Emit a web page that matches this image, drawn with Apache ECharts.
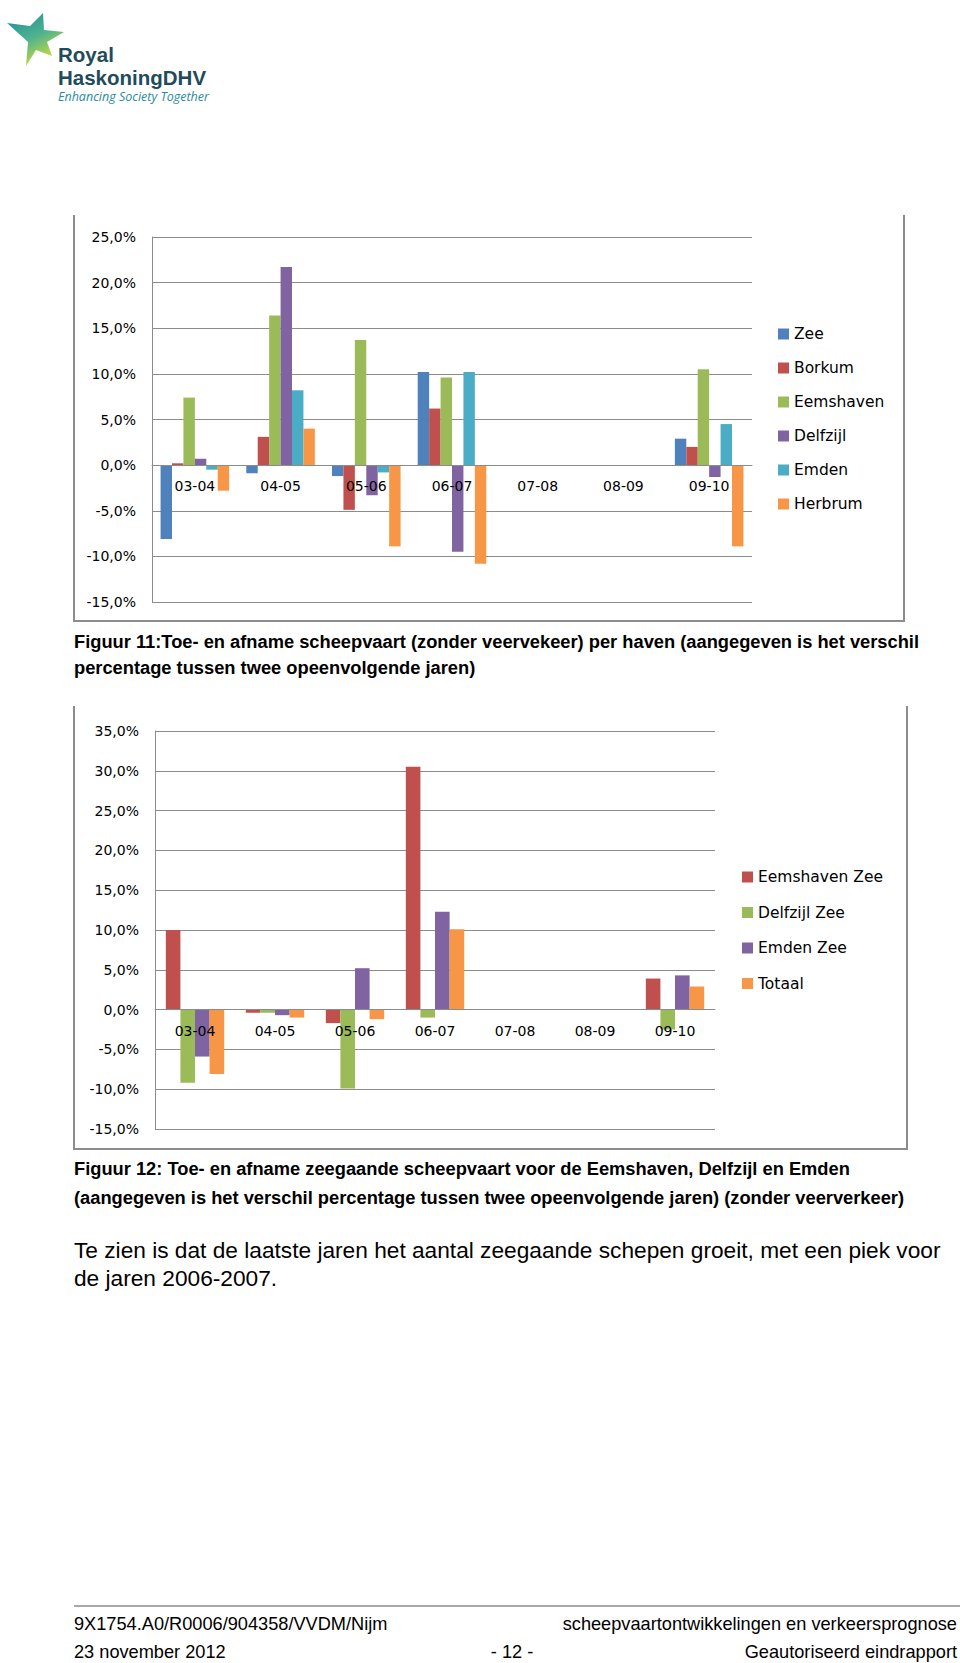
<!DOCTYPE html>
<html>
<head>
<meta charset="utf-8">
<script src="https://cdn.jsdelivr.net/npm/echarts@6/dist/echarts.min.js"></script>
<style>
  html, body { margin: 0; padding: 0; background: #fff; }
  #page { width: 960px; height: 1663px; }
</style>
</head>
<body>
<div id="page"></div>
<script>
// categorieen (jaarparen)
const categories = ['03-04', '04-05', '05-06', '06-07', '07-08', '08-09', '09-10']

// figuur 11: per haven, % verschil
const zee = [-8.1, -0.9, -1.2, 10.2, 0, 0, 2.9]
const borkum = [0.2, 3.1, -4.9, 6.2, 0, 0, 2.0]
const eemshaven = [7.4, 16.4, 13.7, 9.6, 0, 0, 10.5]
const delfzijl = [0.7, 21.7, -3.3, -9.5, 0, 0, -1.3]
const emden = [-0.5, 8.2, -0.8, 10.2, 0, 0, 4.5]
const herbrum = [-2.8, 4.0, -8.9, -10.8, 0, 0, -8.9]

// figuur 12: zeegaande scheepvaart
const eemshavenZee = [10.0, -0.4, -1.7, 30.5, 0, 0, 3.9]
const delfzijlZee = [-9.2, -0.4, -9.9, -1.0, 0, 0, -2.5]
const emdenZee = [-5.9, -0.7, 5.2, 12.3, 0, 0, 4.3]
const totaal = [-8.1, -1.0, -1.2, 10.1, 0, 0, 2.9]

const colors1 = ['#4F81BD', '#C0504D', '#9BBB59', '#8064A2', '#4BACC6', '#F79646']
const colors2 = ['#C0504D', '#9BBB59', '#8064A2', '#F79646']

const chartFont = 'DejaVu Sans'
const gridColor = '#8c8c8c'

const grid1 = { left: 152, top: 237, width: 600, height: 365, min: -15, max: 25 }
const grid2 = { left: 155, top: 731, width: 560, height: 398, min: -15, max: 35 }

function pct(v) {
  return v.toFixed(1).replace('.', ',') + '%'
}

// categorie-as op de nullijn (offset vanaf onderkant grid)
function xAxisFor(gridIndex, g) {
  return {
    type: 'category',
    gridIndex: gridIndex,
    data: categories,
    z: 5,
    position: 'bottom',
    offset: -g.height * (0 - g.min) / (g.max - g.min),
    axisLine: { onZero: false, lineStyle: { color: gridColor, width: 1 } },
    axisTick: { show: false },
    axisLabel: { color: '#000', fontFamily: chartFont, fontSize: 14, margin: 14 },
  }
}

function yAxisFor(gridIndex, g) {
  return {
    type: 'value',
    gridIndex: gridIndex,
    min: g.min,
    max: g.max,
    interval: 5,
    axisLine: { show: true, onZero: false, lineStyle: { color: gridColor, width: 1 } },
    axisTick: { show: false },
    splitLine: { lineStyle: { color: gridColor, width: 1 } },
    axisLabel: { color: '#000', fontFamily: chartFont, fontSize: 14, margin: 16, formatter: pct },
  }
}

function barSeries(name, data, color, idx, gap) {
  return {
    name: name,
    type: 'bar',
    xAxisIndex: idx,
    yAxisIndex: idx,
    data: data,
    itemStyle: { color: color },
    barGap: '0%',
    barCategoryGap: gap,
    animation: false,
  }
}

const names1 = ['Zee', 'Borkum', 'Eemshaven', 'Delfzijl', 'Emden', 'Herbrum']
const data1 = [zee, borkum, eemshaven, delfzijl, emden, herbrum]
const names2 = ['Eemshaven Zee', 'Delfzijl Zee', 'Emden Zee', 'Totaal']
const data2 = [eemshavenZee, delfzijlZee, emdenZee, totaal]

const series = []
names1.forEach((n, i) => series.push(barSeries(n, data1[i], colors1[i], 0, '20%')))
names2.forEach((n, i) => series.push(barSeries(n, data2[i], colors2[i], 1, '27%')))

function txt(text, x, y, font, fill, align) {
  return {
    type: 'text',
    x: x,
    y: y,
    style: {
      text: text,
      font: font,
      fill: fill || '#000',
      textAlign: align || 'left',
      textVerticalAlign: 'middle',
    },
  }
}

function line(x1, y1, x2, y2, color, w) {
  return {
    type: 'line',
    shape: { x1: x1, y1: y1, x2: x2, y2: y2 },
    style: { stroke: color, lineWidth: w },
  }
}

const capFont = 'bold 18.3px "Liberation Sans", Arial'
const bodyFont = '22.7px "Liberation Sans", Arial'
const footFont = '18.2px "Liberation Sans", Arial'
const logoFont = 'bold 20.5px "Liberation Sans", Arial'

const graphics = [
  // logo
  {
    type: 'polygon',
    shape: {
      points: [[7, 23], [30, 26], [43, 13], [44, 30], [64, 32], [47, 42], [52, 56], [36, 50], [26, 66], [28, 42]],
    },
    style: {
      fill: new echarts.graphic.LinearGradient(0, 0, 0.5, 1, [
        { offset: 0, color: '#1b8a9f' },
        { offset: 0.55, color: '#4fb38e' },
        { offset: 1, color: '#c9dc3a' },
      ]),
    },
  },
  txt('Royal', 58, 54, logoFont, '#1f4b5c'),
  txt('HaskoningDHV', 58, 77, logoFont, '#1f4b5c'),
  txt('Enhancing Society Together', 58, 96, 'italic 12.5px "Open Sans", sans-serif', '#2a8a99'),

  // kaders
  line(74, 215, 74, 621, gridColor, 2),
  line(73, 621, 905, 621, gridColor, 2),
  line(904, 215, 904, 621, gridColor, 2),
  line(74, 706, 74, 1149, gridColor, 2),
  line(73, 1149, 908, 1149, gridColor, 2),
  line(907, 706, 907, 1149, gridColor, 2),

  // bijschriften
  txt('Figuur 11:Toe- en afname scheepvaart (zonder veervekeer) per haven (aangegeven is het verschil', 74, 641, capFont),
  txt('percentage tussen twee opeenvolgende jaren)', 74, 667, capFont),
  txt('Figuur 12: Toe- en afname zeegaande scheepvaart voor de Eemshaven, Delfzijl en Emden', 74, 1168, capFont),
  txt('(aangegeven is het verschil percentage tussen twee opeenvolgende jaren) (zonder veerverkeer)', 74, 1197, capFont),
  txt('Te zien is dat de laatste jaren het aantal zeegaande schepen groeit, met een piek voor', 74, 1250, bodyFont),
  txt('de jaren 2006-2007.', 74, 1278, bodyFont),

  // voettekst
  line(74, 1606, 960, 1606, '#8c8c8c', 1.5),
  txt('9X1754.A0/R0006/904358/VVDM/Nijm', 74, 1624, footFont),
  txt('scheepvaartontwikkelingen en verkeersprognose', 957, 1624, footFont, '#000', 'right'),
  txt('23 november 2012', 74, 1652, footFont),
  txt('- 12 -', 512, 1652, footFont, '#000', 'center'),
  txt('Geautoriseerd eindrapport', 957, 1652, footFont, '#000', 'right'),
]

const chart = echarts.init(document.getElementById('page'), null, { renderer: 'svg' })

const legendText = { fontFamily: chartFont, fontSize: 15.5, lineHeight: 16, color: '#000' }

const option = {
  animation: false,
  backgroundColor: '#fff',
  grid: [
    { left: grid1.left, top: grid1.top, width: grid1.width, height: grid1.height },
    { left: grid2.left, top: grid2.top, width: grid2.width, height: grid2.height },
  ],
  xAxis: [xAxisFor(0, grid1), xAxisFor(1, grid2)],
  yAxis: [yAxisFor(0, grid1), yAxisFor(1, grid2)],
  legend: [
    {
      orient: 'vertical',
      left: 778,
      top: 326,
      padding: 0,
      data: names1,
      icon: 'rect',
      itemWidth: 11,
      itemHeight: 11,
      itemGap: 18,
      textStyle: legendText,
    },
    {
      orient: 'vertical',
      left: 742,
      top: 869,
      padding: 0,
      data: names2,
      icon: 'rect',
      itemWidth: 11,
      itemHeight: 11,
      itemGap: 19.5,
      textStyle: legendText,
    },
  ],
  series: series,
  graphic: graphics,
}

chart.setOption(option)
</script>
</body>
</html>
